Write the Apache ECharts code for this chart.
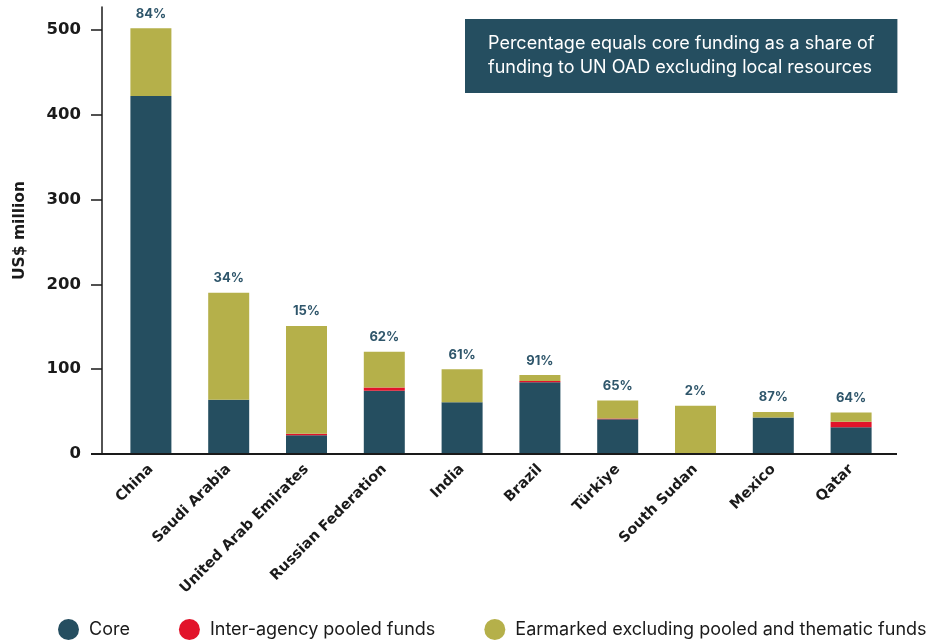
<!DOCTYPE html>
<html>
<head>
<meta charset="utf-8">
<script src="https://cdn.jsdelivr.net/npm/echarts@6/dist/echarts.min.js"></script>
<style>
  html, body { margin: 0; padding: 0; background: #fff; }
  #chart { width: 934px; height: 643px; }
</style>
</head>
<body>
<div id="chart"></div>
<script>
// Funding to UN OAD by donor (US$ million)
const countries = ['China', 'Saudi Arabia', 'United Arab Emirates', 'Russian Federation', 'India',
                   'Brazil', 'Türkiye', 'South Sudan', 'Mexico', 'Qatar'];
const core       = [422, 64, 22, 74.5, 61, 84.5, 41, 1.1, 43, 31.5];
const pooled     = [0, 0, 2, 4, 0, 1.5, 1, 0, 0, 6.5];
const earmarked  = [80, 126, 127, 42, 39, 7, 21, 55.9, 6.5, 11];
const coreShare  = ['84%', '34%', '15%', '62%', '61%', '91%', '65%', '2%', '87%', '64%'];
const yTicks     = [0, 100, 200, 300, 400, 500];

const COLORS = { core: '#254e60', pooled: '#e2132a', earmarked: '#b5b04a', ink: '#1a1a1a', pct: '#2f566b' };
const AXIS_FONT = 'DejaVu Sans';

const chart = echarts.init(document.getElementById('chart'));

const barCommon = { type: 'bar', stack: 'total', barWidth: 41 };

chart.setOption({
  animation: false,
  title: {
    text: 'Percentage equals core funding as a share of\nfunding to UN OAD excluding local resources',
    left: 465,
    top: 19,
    padding: [13, 23, 13, 23],
    backgroundColor: '#254e60',
    textStyle: {
      color: '#ffffff',
      fontFamily: 'Inter',
      fontSize: 18,
      fontWeight: 'normal',
      lineHeight: 24
    }
  },
  legend: {
    left: 58,
    top: 619,
    width: 900,
    padding: 0,
    icon: 'circle',
    itemWidth: 21,
    itemHeight: 21,
    itemGap: 49,
    textStyle: { fontFamily: 'Inter', fontSize: 18, color: '#1a1a1a', padding: [0, 0, 0, 5] },
    data: ['Core', 'Inter-agency pooled funds', 'Earmarked excluding pooled and thematic funds']
  },
  grid: { left: 112, right: 44, top: 7, bottom: 189 },
  xAxis: {
    type: 'category',
    data: countries,
    axisLine: { show: false },
    axisTick: { show: false },
    axisLabel: {
      rotate: 45,
      margin: 13,
      interval: 0,
      color: COLORS.ink,
      fontFamily: AXIS_FONT,
      fontWeight: 'bold',
      fontSize: 14.5
    }
  },
  yAxis: {
    type: 'value',
    min: 0,
    max: 527,
    offset: 10,
    name: 'US$ million',
    nameLocation: 'middle',
    nameGap: 74,
    nameTextStyle: { color: COLORS.ink, fontFamily: AXIS_FONT, fontWeight: 'bold', fontSize: 15.5 },
    axisLine: { show: true, lineStyle: { color: COLORS.ink, width: 1.5 } },
    axisTick: { show: true, length: 11, customValues: yTicks, lineStyle: { color: COLORS.ink, width: 1.5 } },
    axisLabel: {
      customValues: yTicks,
      margin: 21,
      color: COLORS.ink,
      fontFamily: AXIS_FONT,
      fontWeight: 'bold',
      fontSize: 16.5
    },
    splitLine: { show: false }
  },
  series: [
    Object.assign({}, barCommon, {
      name: 'Core', data: core, itemStyle: { color: COLORS.core }
    }),
    Object.assign({}, barCommon, {
      name: 'Inter-agency pooled funds', data: pooled, itemStyle: { color: COLORS.pooled }
    }),
    Object.assign({}, barCommon, {
      name: 'Earmarked excluding pooled and thematic funds', data: earmarked,
      itemStyle: { color: COLORS.earmarked },
      label: {
        show: true,
        position: 'top',
        distance: 8,
        formatter: (p) => coreShare[p.dataIndex],
        color: COLORS.pct,
        fontFamily: 'Inter',
        fontWeight: 'bold',
        fontSize: 13
      }
    })
  ]
});

// Baseline running under the bars, joined to the zero tick of the value axis
const zeroY = chart.convertToPixel({ yAxisIndex: 0 }, 0);
const gridRect = chart.getModel().getComponent('grid').coordinateSystem.getRect();
chart.setOption({
  graphic: [{
    type: 'line',
    z: 10,
    shape: { x1: gridRect.x - 21, y1: zeroY, x2: gridRect.x + gridRect.width + 7, y2: zeroY },
    style: { stroke: COLORS.ink, lineWidth: 2 }
  }]
});
</script>
</body>
</html>
